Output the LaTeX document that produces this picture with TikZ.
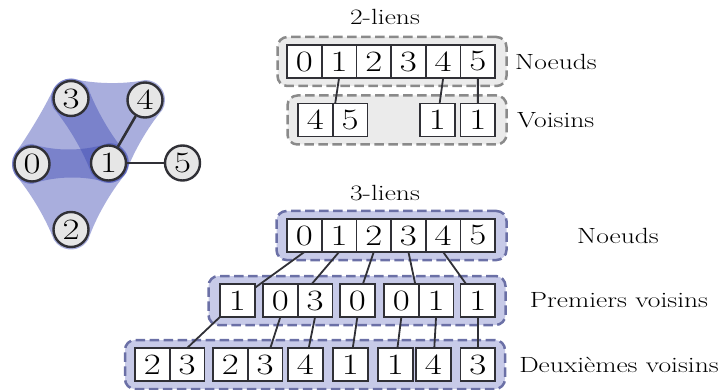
\documentclass[tikz,border=0pt]{standalone}
\usepackage{graphicx}
\usetikzlibrary{fit,calc}
\definecolor{gfill}{HTML}{EBEBEB}
\definecolor{gdraw}{HTML}{8A8A8A}
\definecolor{bfill}{HTML}{C7CAE8}
\definecolor{bdraw}{HTML}{6B70A6}
\definecolor{blobc}{RGB}{64,76,180}
\definecolor{dark}{HTML}{303036}
\definecolor{nodefill}{HTML}{E6E6E6}
\newcommand{\digitfont}{\fontsize{29.5}{34}\selectfont}
\newcommand{\labfont}{\fontsize{22}{26}\selectfont}
\newcommand{\sx}[1]{\scalebox{1.25}[1]{#1}}
\begin{document}
\begin{tikzpicture}[x=1pt,y=-1pt,
  cell/.style={draw=dark, line width=1.6pt, fill=white, minimum width=34.7pt,
    minimum height=33pt, inner sep=0pt, outer sep=0pt, font=\digitfont, anchor=west},
  grp/.style={inner sep=0pt, outer sep=0pt},
  gframe/.style={draw=gdraw, fill=gfill, line width=2.5pt, dash pattern=on 9.5pt off 4.5pt,
    rounded corners=10pt},
  bframe/.style={draw=bdraw, fill=bfill, line width=2.5pt, dash pattern=on 9.5pt off 4.5pt,
    rounded corners=10pt},
  link/.style={draw=dark, line width=1.8pt},
  vert/.style={circle, draw=dark, fill=nodefill, line width=2.4pt, minimum size=35pt,
    inner sep=0pt, font=\digitfont},
  edge/.style={draw=dark, line width=2.6pt},
  blob/.style={fill=blobc, fill opacity=0.45},
  lab/.style={font=\labfont, inner sep=0pt}]
\useasboundingbox (0,0) rectangle (720,390);

% ---------- hypergraph blobs ----------
\fill[blob] (32.26,144) .. controls +(22.8,7.7) and +(-23.1,8.3) .. (108.76,143)
  arc[start angle=-90.75, end angle=29.42, radius=20]
  .. controls +(-15.1,17.8) and +(7.4,-22.1) .. (88.42,239.32)
  arc[start angle=29.42, end angle=149.23, radius=20]
  .. controls +(-8.1,-21.7) and +(15.1,17.6) .. (14.82,174.23)
  arc[start angle=149.23, end angle=269.25, radius=20] -- cycle;
\fill[blob] (14.82,153.77) .. controls +(13.4,-18.6) and +(-9.8,20.7) .. (53.82,88.27)
  arc[start angle=-149.23, end angle=-30.17, radius=20]
  .. controls +(7.8,21.4) and +(-14.7,-17.3) .. (125.79,152.95)
  arc[start angle=-30.17, end angle=89.25, radius=20]
  .. controls +(-23.11,-7.7) and +(22.79,-8.3) .. (32.26,184)
  arc[start angle=89.25, end angle=210.77, radius=20] -- cycle;
\fill[blob] (71.4,78.5) .. controls +(22.1,5.5) and +(-22.3,4.6) .. (145.4,80)
  arc[start angle=-88.84, end angle=30.09, radius=20]
  .. controls +(-14.4,16.9) and +(7.5,-20.9) .. (125.8,173.03)
  arc[start angle=30.09, end angle=149.83, radius=20]
  .. controls +(-7.8,-21.4) and +(14.7,17.3) .. (53.71,108.55)
  arc[start angle=149.83, end angle=271.16, radius=20] -- cycle;

% ---------- graph ----------
\node[vert] (g0) at (32,164) {\sx{0}};
\node[vert] (g1) at (108.5,163) {\sx{1}};
\node[vert] (g2) at (71,229.5) {\sx{2}};
\node[vert] (g3) at (71,98.5) {\sx{3}};
\node[vert] (g4) at (145,100) {\sx{4}};
\node[vert] (g5) at (182.5,163) {\sx{5}};
\draw[edge] (g1) -- (g4);
\draw[edge] (g1) -- (g5);

% ---------- 2-liens ----------
\node[lab] (lab2) at (385,17) {\sx{2-liens}};
\node[gframe, minimum width=229pt, minimum height=49pt] (f2a) at (392,61.5) {};
\node[gframe, minimum width=219pt, minimum height=49pt] (f2b) at (397,120) {};
\node[cell] (a0) at (287,61.5) {\sx{0}};
\node[cell] (a1) at (a0.east) {\sx{1}};
\node[cell] (a2) at (a1.east) {\sx{2}};
\node[cell] (a3) at (a2.east) {\sx{3}};
\node[cell] (a4) at (a3.east) {\sx{4}};
\node[cell] (a5) at (a4.east) {\sx{5}};
\node[cell] (v4) at (298,120) {\sx{4}};
\node[cell] (v5) at (v4.east) {\sx{5}};
\node[cell] (v1a) at (420,120) {\sx{1}};
\node[cell] (v1b) at (460.5,120) {\sx{1}};
\node[grp, fit=(v4)(v5)] (v45) {};
\draw[link] (a1.south) -- (v45);
\draw[link] (a4.south) -- (v1a);
\draw[link] (a5.south) -- (v1b);
\node[lab, anchor=west] (n2) at (515,61.5) {\sx{Noeuds}};
\node[lab, anchor=west] (vs2) at (517,120) {\sx{Voisins}};

% ---------- 3-liens ----------
\node[lab] (lab3) at (385,193) {\sx{3-liens}};
\node[bframe, minimum width=230pt, minimum height=49pt] (f3a) at (391.5,235.5) {};
\node[bframe, minimum width=297pt, minimum height=49pt] (f3b) at (357,300.5) {};
\node[bframe, minimum width=380pt, minimum height=49pt] (f3c) at (315,364.5) {};
% top row
\node[cell] (b0) at (287,235.5) {\sx{0}};
\node[cell] (b1) at (b0.east) {\sx{1}};
\node[cell] (b2) at (b1.east) {\sx{2}};
\node[cell] (b3) at (b2.east) {\sx{3}};
\node[cell] (b4) at (b3.east) {\sx{4}};
\node[cell] (b5) at (b4.east) {\sx{5}};
% first neighbours
\node[cell] (p0) at (220,300.5) {\sx{1}};
\node[cell] (p1a) at (263,300.5) {\sx{0}};
\node[cell] (p1b) at (p1a.east) {\sx{3}};
\node[cell] (p2) at (340,300.5) {\sx{0}};
\node[cell] (p3a) at (384,300.5) {\sx{0}};
\node[cell] (p3b) at (p3a.east) {\sx{1}};
\node[cell] (p4) at (460.5,300.5) {\sx{1}};
\node[grp, fit=(p1a)(p1b)] (p1) {};
\node[grp, fit=(p3a)(p3b)] (p3) {};
% second neighbours
\node[cell] (s0a) at (135,364.5) {\sx{2}};
\node[cell] (s0b) at (s0a.east) {\sx{3}};
\node[cell] (s1a) at (213,364.5) {\sx{2}};
\node[cell] (s1b) at (s1a.east) {\sx{3}};
\node[cell] (s2) at (288,364.5) {\sx{4}};
\node[cell] (s3) at (333,364.5) {\sx{1}};
\node[cell] (s4) at (378,364.5) {\sx{1}};
\node[cell] (s5) at (416,364.5) {\sx{4}};
\node[cell] (s6) at (460.5,364.5) {\sx{3}};
\node[grp, fit=(s0a)(s0b)] (s0) {};
% links
\draw[link] (b0.south) -- (p0);
\draw[link] (b1.south) -- (p1);
\draw[link] (b2.south) -- (p2);
\draw[link] (b3.south) -- (p3);
\draw[link] (b4.south) -- (p4);
\draw[link] (p0) -- (s0);
\draw[link] (p1a.south) -- (s1b);
\draw[link] (p1b.south) -- (s2);
\draw[link] (p2.south) -- (s3);
\draw[link] (p3a.south) -- (s4);
\draw[link] (p3b.south) -- (s5);
\draw[link] (p4.south) -- (s6);
\node[lab] (n3) at (618,235.5) {\sx{Noeuds}};
\node[lab] (pv) at (619,300.5) {\sx{Premiers voisins}};
\node[lab] (dv) at (619,364.5) {\sx{Deuxièmes voisins}};
\end{tikzpicture}
\end{document}
